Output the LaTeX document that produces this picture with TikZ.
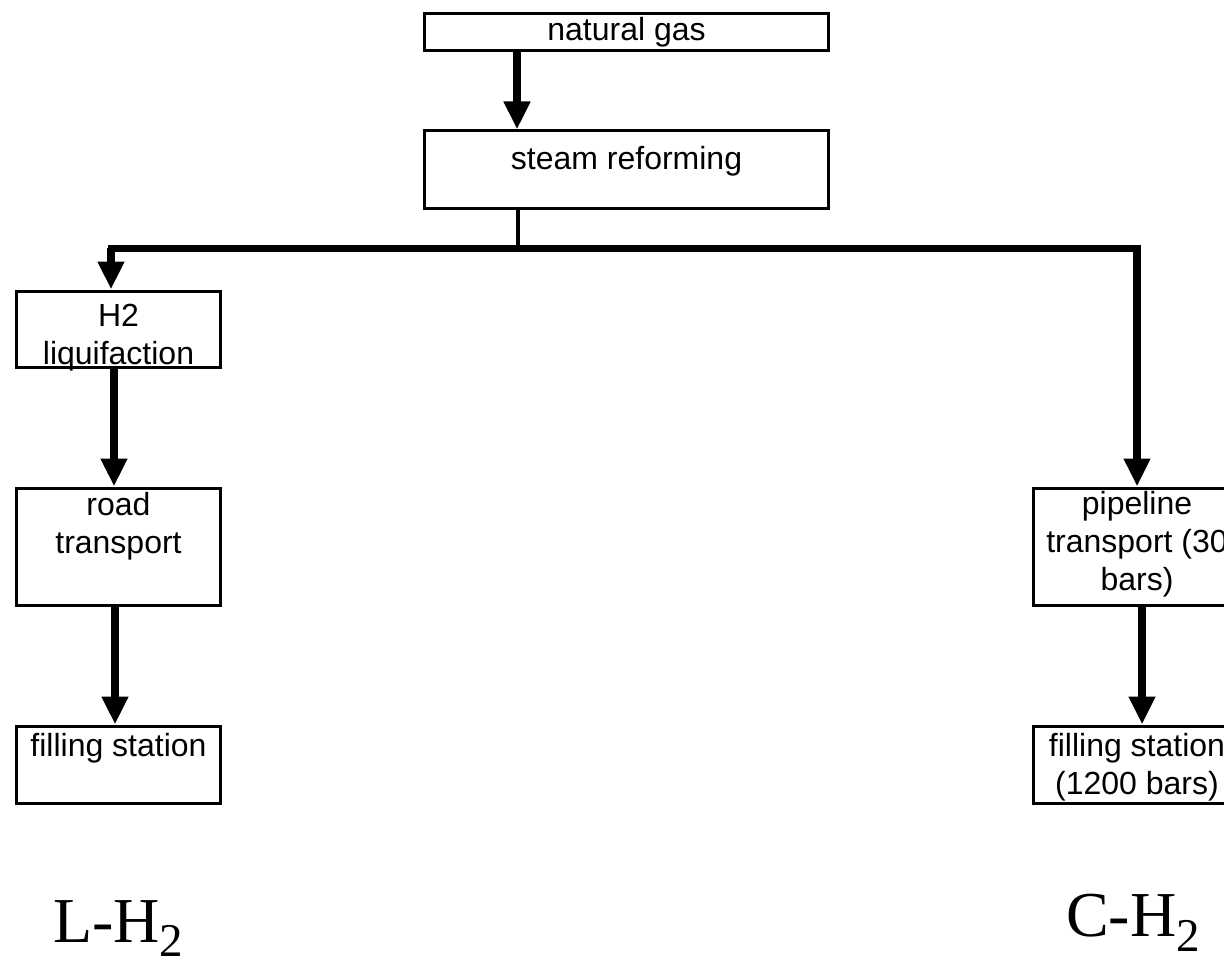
\documentclass[tikz,border=0pt]{standalone}
\usepackage{fontspec}
\setmainfont{Liberation Sans}
\newfontfamily\timesfont{Liberation Serif}
\usetikzlibrary{calc}
\usetikzlibrary{arrows.meta}

\newcommand{\stagetxt}[4]{\parbox[t][#2pt][t]{#1pt}{\centering\rule{0pt}{#3pt}#4}}

\begin{document}
\begin{tikzpicture} [x=1pt, y=-1pt,
  stage/.style={draw, line width=3pt, inner sep=0pt, anchor=north, font=\fontsize{32}{38}\selectfont},
  flow/.style={line width=8pt, -{Triangle[length=28pt,width=25pt]}},
  kind/.style={inner sep=0pt, anchor=base west, font=\timesfont\fontsize{64}{64}\selectfont}]
\useasboundingbox (0,0) rectangle (1224,963);
\clip (0,0) rectangle (1224,963);

\node (gas) [stage] at (626.5,12.5) {\stagetxt{404}{37}{26.5}{natural gas}};
\node (reform) [stage] at (626.5,129.5) {\stagetxt{404}{77}{38.5}{steam reforming}};
\node (liquef) [stage] at (118.5,289.5) {\stagetxt{204}{76}{35.5}{H2\\liquifaction}};
\node (road) [stage] at (118.5,486.5) {\stagetxt{204}{117}{27.5}{road\\transport}};
\node (lfill) [stage] at (118.5,724.5) {\stagetxt{204}{77}{30.5}{filling station}};
\node (pipe) [stage] at (1137,486.5) {\stagetxt{207}{117}{26.5}{pipeline\\transport (30\\bars)}};
\node (cfill) [stage] at (1137,724.5) {\stagetxt{207}{77}{30.5}{filling station\\(1200 bars)}};

\coordinate (split) at (518,248);
\coordinate (lbranch) at (111,248);
\coordinate (rbranch) at (1137,248);

\draw[flow] ([xshift=-109.5pt]gas.south) -- ([xshift=-109.5pt]reform.north);
\draw[line width=4pt] (reform.south -| split) -- (split);
\draw[line width=7pt, line cap=rect] (lbranch) -- (rbranch);
\draw[flow] (lbranch) -- (lbranch |- liquef.north);
\draw[flow] (rbranch) -- (pipe.north);
\draw[flow] ([xshift=-4.5pt]liquef.south) -- ([xshift=-4.5pt]road.north);
\draw[flow] ([xshift=-3.5pt]road.south) -- ([xshift=-3.5pt]lfill.north);
\draw[flow] ([xshift=5pt]pipe.south) -- ([xshift=5pt]cfill.north);

\node (liquid) [kind] at (53,942) {L-H\raisebox{-14pt}{\fontsize{47}{47}\selectfont 2}};
\node (compr) [kind] at (1066,936) {C-H\raisebox{-15pt}{\fontsize{47}{47}\selectfont 2}};

\end{tikzpicture}
\end{document}
